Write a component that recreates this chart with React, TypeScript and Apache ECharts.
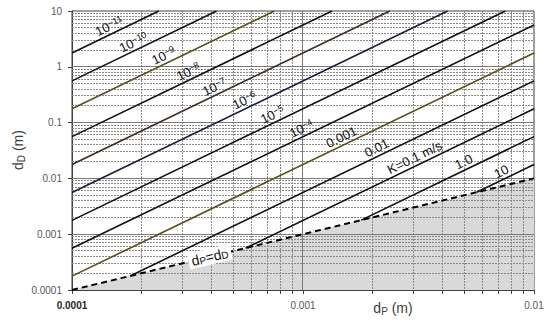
import React, { useEffect, useRef } from "react";
import * as echarts from "echarts";

// ---- data ----
const xTickValues = [0.0001, 0.001, 0.01];
const xTickLabels = ["0.0001", "0.001", "0.01"];
const yTickValues = [0.0001, 0.001, 0.01, 0.1, 1, 10];
const yTickLabels = ["0.0001", "0.001", "0.01", "0.1", "1", "10"];

const lineLabels = [
  "10{s|−11}", "10{s|−10}", "10{s|−9}", "10{s|−8}", "10{s|−7}", "10{s|−6}",
  "10{s|−5}", "10{s|−4}", "0.001", "0.01", "K=0.1 m/s", "1.0", "10",
];
const lineStart: [number, number][] = [
  [0.0001, 1.771], [0.0001, 0.56], [0.0001, 0.1771], [0.0001, 0.056],
  [0.0001, 0.01771], [0.0001, 0.0056], [0.0001, 0.001771], [0.0001, 0.00056],
  [0.0001, 0.0001771], [0.0001786, 0.0001786], [0.0005647, 0.0005647],
  [0.001786, 0.001786], [0.005647, 0.005647],
];
const lineEnd: [number, number][] = [
  [0.0002376, 10], [0.0004226, 10], [0.0007515, 10], [0.001336, 10],
  [0.002376, 10], [0.004226, 10], [0.007515, 10], [0.01, 5.6],
  [0.01, 1.771], [0.01, 0.56], [0.01, 0.1771], [0.01, 0.056], [0.01, 0.01771],
];
const labelAtX = [
  0.000150, 0.000191, 0.000258, 0.000330, 0.000428, 0.000578, 0.000764,
  0.00102, 0.00152, 0.00216, 0.00315, 0.00513, 0.00748,
];
const lineColors = [
  "#111111", "#10101e", "#5a4e1c", "#111111", "#3e2a1e", "#161c3a",
  "#111111", "#111111", "#5a4e1c", "#111111", "#111111", "#111111", "#111111",
];
const dashedLine: [number, number][] = [[0.0001, 0.0001], [0.01, 0.01]];
const dashedLabelX = 0.000395;

const xMinorTicks = [
  0.0002, 0.0003, 0.0004, 0.0005, 0.0006, 0.0007, 0.0008, 0.0009,
  0.002, 0.003, 0.004, 0.005, 0.006, 0.007, 0.008, 0.009,
];
const xMajorGrid = [0.001];
const yMajorGrid = [0.001, 0.01, 0.1, 1];
const minorMult = [2, 3, 4, 5, 6, 7, 8, 9];
const yDecades = [0.0001, 0.001, 0.01, 0.1, 1];

const FONT = "Liberation Sans";
const X_MIN = 0.0001, X_MAX = 0.01, Y_MIN = 0.0001, Y_MAX = 10;

function yOnLine(i: number, x: number): number {
  const [x0, y0] = lineStart[i];
  const [x1, y1] = lineEnd[i];
  const t = (Math.log10(x) - Math.log10(x0)) / (Math.log10(x1) - Math.log10(x0));
  return Math.pow(10, Math.log10(y0) + t * (Math.log10(y1) - Math.log10(y0)));
}

function pickLabel(v: number, vals: number[], labels: string[]) {
  for (let i = 0; i < vals.length; i++) {
    if (Math.abs(Math.log10(v) - Math.log10(vals[i])) < 0.01) return labels[i];
  }
  return "";
}

export default function App() {
  const ref = useRef<HTMLDivElement>(null);
  useEffect(() => {
    if (!ref.current) return;
    const chart = echarts.init(ref.current, null, { renderer: "svg" });

    const yMinor: number[] = [];
    yDecades.forEach((d) => minorMult.forEach((m) => yMinor.push(d * m)));

    const series: any[] = [
      {
        type: "line",
        data: dashedLine,
        symbol: "none",
        lineStyle: { width: 0, opacity: 0 },
        areaStyle: { color: "#d9d9d9", opacity: 1, origin: "start" },
        z: 1,
        silent: true,
      },
    ];

    lineStart.forEach((s, i) => {
      const lx = labelAtX[i];
      series.push({
        type: "line",
        data: [s, lineEnd[i]],
        symbol: "none",
        z: 3,
        lineStyle: { color: lineColors[i], width: 1.6 },
        markPoint: {
          symbolSize: 0,
          animation: false,
          data: [{ coord: [lx, yOnLine(i, lx)] }],
          label: {
            show: true,
            position: "inside",
            rotate: 26,
            offset: [0, -8],
            formatter: lineLabels[i],
            color: "#111",
            fontFamily: FONT,
            fontSize: 13,
            rich: {
              s: { fontSize: 9, verticalAlign: "top", lineHeight: 10, fontFamily: FONT, color: "#111" },
            },
          },
        },
      });
    });

    series.push({
      type: "line",
      data: dashedLine,
      symbol: "none",
      z: 4,
      lineStyle: { color: "#000", width: 2, type: [6, 4] },
      markPoint: {
        symbolSize: 0,
        animation: false,
        data: [{ coord: [dashedLabelX, dashedLabelX] }],
        label: {
          show: true,
          position: "inside",
          rotate: 13.6,
          formatter: "d{s|P}=d{s|D}",
          color: "#111",
          fontFamily: FONT,
          fontSize: 14,
          backgroundColor: "#ffffff",
          padding: [1, 3, 1, 3],
          rich: {
            s: { fontSize: 10, verticalAlign: "bottom", lineHeight: 13, fontFamily: FONT, color: "#111" },
          },
        },
      },
    });

    chart.setOption({
      animation: false,
      grid: {
        left: 72, right: 16, top: 11, bottom: 32,
        show: true, borderColor: "#404040", borderWidth: 1, backgroundColor: "transparent",
      },
      xAxis: {
        type: "log",
        logBase: 10,
        min: X_MIN,
        max: X_MAX,
        axisLine: { show: true, lineStyle: { color: "#404040", width: 1 } },
        axisTick: { show: true, length: 4, inside: false, lineStyle: { color: "#404040" } },
        splitLine: { show: false },
        axisLabel: {
          margin: 10,
          fontFamily: FONT,
          fontSize: 10,
          color: "#595959",
          formatter: (v: number) => {
            const t = pickLabel(v, xTickValues, xTickLabels);
            return t === "0.0001" ? "{b|" + t + "}" : t;
          },
          rich: { b: { fontWeight: "bold", color: "#262626", fontSize: 10, fontFamily: FONT } },
        },
      },
      yAxis: {
        type: "log",
        logBase: 10,
        min: Y_MIN,
        max: Y_MAX,
        axisLine: { show: true, lineStyle: { color: "#404040", width: 1 } },
        axisTick: { show: true, length: 4, inside: false, lineStyle: { color: "#404040" } },
        splitLine: { show: false },
        axisLabel: {
          margin: 10,
          fontFamily: FONT,
          fontSize: 10,
          color: "#595959",
          formatter: (v: number) => pickLabel(v, yTickValues, yTickLabels),
        },
      },
      series,
    });

    // grid lines, minor ticks and axis names, positioned through the axes' scales
    const px = (v: number) => chart.convertToPixel({ xAxisIndex: 0 }, v) as number;
    const py = (v: number) => chart.convertToPixel({ yAxisIndex: 0 }, v) as number;
    const snap = (p: number) => Math.floor(p) + 0.5;
    const gx0 = px(X_MIN), gx1 = px(X_MAX), gy0 = py(Y_MAX), gy1 = py(Y_MIN);
    const graphics: any[] = [];
    const minorSt = { stroke: "#8a8a8a", lineWidth: 1, lineDash: [2, 1] };
    const majorSt = { stroke: "#7a7a7a", lineWidth: 1 };
    xMinorTicks.forEach((v) => {
      const x = snap(px(v));
      graphics.push({ type: "line", z: 2, silent: true, shape: { x1: x, y1: gy0, x2: x, y2: gy1 }, style: minorSt });
      graphics.push({ type: "line", z: 2, silent: true, shape: { x1: x, y1: gy1, x2: x, y2: gy1 + 4 }, style: { stroke: "#404040", lineWidth: 1 } });
    });
    yMinor.forEach((v) => {
      const y = snap(py(v));
      graphics.push({ type: "line", z: 2, silent: true, shape: { x1: gx0, y1: y, x2: gx1, y2: y }, style: minorSt });
    });
    xMajorGrid.forEach((v) => {
      const x = snap(px(v));
      graphics.push({ type: "line", z: 2, silent: true, shape: { x1: x, y1: gy0, x2: x, y2: gy1 }, style: majorSt });
    });
    yMajorGrid.forEach((v) => {
      const y = snap(py(v));
      graphics.push({ type: "line", z: 2, silent: true, shape: { x1: gx0, y1: y, x2: gx1, y2: y }, style: majorSt });
    });
    graphics.push({
      type: "text",
      x: 393,
      y: 308,
      style: {
        text: "d{s|P} (m)",
        fontFamily: FONT,
        fontSize: 14,
        fill: "#404040",
        align: "center",
        verticalAlign: "middle",
        rich: { s: { fontSize: 10, verticalAlign: "bottom", lineHeight: 16, fontFamily: FONT, fill: "#404040" } },
      },
    });
    graphics.push({
      type: "text",
      x: 18,
      y: 150,
      rotation: Math.PI / 2,
      style: {
        text: "d{s|D} (m)",
        fontFamily: FONT,
        fontSize: 14,
        fill: "#404040",
        align: "center",
        verticalAlign: "middle",
        rich: { s: { fontSize: 10, verticalAlign: "bottom", lineHeight: 16, fontFamily: FONT, fill: "#404040" } },
      },
    });
    chart.setOption({ graphic: graphics });

    return () => chart.dispose();
  }, []);
  return (
    <div
      ref={ref}
      style={{ position: "absolute", left: 0, top: 0, width: 550, height: 322, background: "#fff" }}
    />
  );
}
